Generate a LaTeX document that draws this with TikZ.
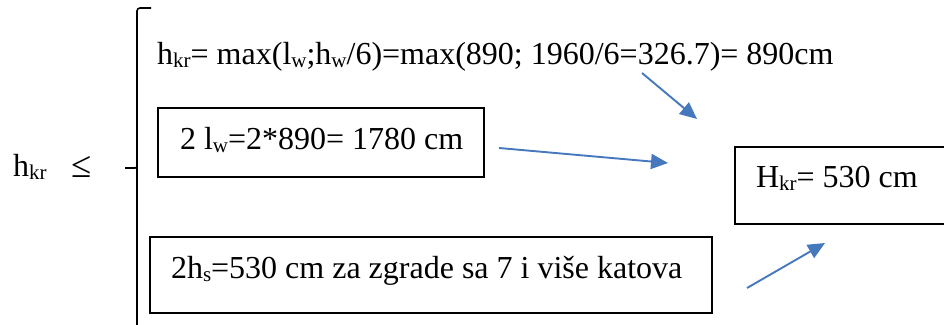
\documentclass[tikz,border=0pt]{standalone}
\usepackage{fontspec}
\setmainfont{Liberation Serif}
\usetikzlibrary{arrows.meta}
\definecolor{arrblue}{RGB}{70,120,190}
\newcommand{\sbs}[1]{\raisebox{-0.12em}{\fontsize{21}{21}\selectfont #1}}
\begin{document}
\begin{tikzpicture}[x=1pt,y=-1pt,
  every node/.style={font=\fontsize{32}{38}\selectfont, inner sep=0pt},
  txt/.style={anchor=base west},
  box/.style={draw=black, line width=2pt, anchor=north west, inner ysep=0pt},
  arr/.style={draw=arrblue, line width=1.9pt, -{Triangle[length=17pt,width=15pt]}},
  brk/.style={draw=black, line width=1.6pt, line cap=butt}]
\useasboundingbox (0,0) rectangle (944,324);
% left label
\node[txt] (hkr) at (13,176) {h\sbs{kr}};
\node[txt] (leq) at (71,177) {\scalebox{1.15}{≤}};
% bracket
\draw[brk, rounded corners=3pt] (151,8) -- (137,8) -- (137,330);
\draw[brk, rounded corners=2pt] (125,168) -- (137,168) -- (137,160);
% first line
\node[txt] (l1) at (157,64) {h\sbs{kr}= max(l\sbs{w};h\sbs{w}/6)=max(890; 1960/6=326.7)= 890cm};
% boxes
\node[box, inner xsep=22pt, minimum height=69pt, text height=22pt, text depth=9pt] (b2) at (157,107) {\makebox[282pt][l]{2 l\sbs{w}=2*890= 1780 cm}};
\node[box, inner xsep=21pt, minimum height=76pt, text height=22pt, text depth=16pt] (b3) at (149,236) {\makebox[520pt][l]{2h\sbs{s}=530 cm za zgrade sa 7 i više katova}};
\node[box, inner xsep=21pt, minimum height=77pt, text height=22pt, text depth=19pt] (bh) at (734,146) {\makebox[174pt][l]{H\sbs{kr}= 530 cm}};
% arrows
\coordinate (a1s) at (642,73);
\coordinate (a1e) at (697,119);
\coordinate (a2s) at (499,148);
\coordinate (a2e) at (668,163);
\coordinate (a3s) at (747,288);
\coordinate (a3e) at (825,243);
\draw[arr] (a1s) -- (a1e);
\draw[arr] (a2s) -- (a2e);
\draw[arr] (a3s) -- (a3e);
\end{tikzpicture}
\end{document}
